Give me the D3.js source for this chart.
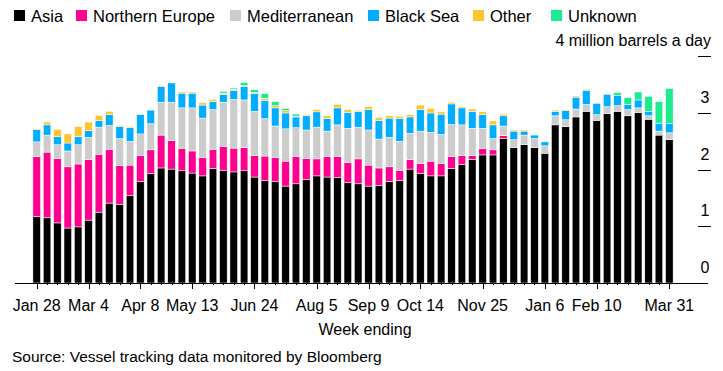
<!DOCTYPE html>
<html>
<head>
<meta charset="utf-8">
<script src="https://cdn.jsdelivr.net/npm/d3@7"></script>
<style>
  body { margin: 0; background: #fff; }
  text { font-family: "Liberation Sans", Arial, sans-serif; fill: #000; }
</style>
</head>
<body>
<div id="chart"></div>
<script>
// week ending (Fridays), Jan 2022 - Mar 2023
var weeks = ["Jan 28", "Feb 4", "Feb 11", "Feb 18", "Feb 25", "Mar 4", "Mar 11", "Mar 18", "Mar 25",
  "Apr 1", "Apr 8", "Apr 15", "Apr 22", "Apr 29", "May 6", "May 13", "May 20", "May 27",
  "Jun 3", "Jun 10", "Jun 17", "Jun 24", "Jul 1", "Jul 8", "Jul 15", "Jul 22", "Jul 29",
  "Aug 5", "Aug 12", "Aug 19", "Aug 26", "Sep 2", "Sep 9", "Sep 16", "Sep 23", "Sep 30",
  "Oct 7", "Oct 14", "Oct 21", "Oct 28", "Nov 4", "Nov 11", "Nov 18", "Nov 25",
  "Dec 2", "Dec 9", "Dec 16", "Dec 23", "Dec 30", "Jan 6", "Jan 13", "Jan 20", "Jan 27",
  "Feb 3", "Feb 10", "Feb 17", "Feb 24", "Mar 3", "Mar 10", "Mar 17", "Mar 24", "Mar 31"];

var tickWeeks = ["Jan 28", "Mar 4", "Apr 8", "May 13", "Jun 24", "Aug 5", "Sep 9", "Oct 14",
  "Nov 25", "Jan 6", "Feb 10", "Mar 31"];

var yTicks = [0, 1, 2, 3, 4];

var regions = ["Asia", "Northern Europe", "Mediterranean", "Black Sea", "Other", "Unknown"];
var colors = ["#000000", "#ff0090", "#cccccc", "#00adfe", "#ffc52e", "#1ceb8f"];

// million barrels a day
var asia = [1.17, 1.15, 1.06, 0.97, 0.99, 1.11, 1.25, 1.41, 1.39, 1.54, 1.79, 1.93, 2.03, 2.01, 1.98, 1.94,
  1.89, 2.02, 1.99, 1.96, 1.98, 1.87, 1.81, 1.79, 1.71, 1.75, 1.83, 1.89, 1.87, 1.86, 1.77, 1.75,
  1.71, 1.72, 1.79, 1.81, 2.01, 1.93, 1.89, 1.89, 2.02, 2.09, 2.18, 2.26, 2.26, 2.55, 2.39, 2.44,
  2.39, 2.29, 2.79, 2.76, 2.93, 3.03, 2.87, 2.99, 3.03, 2.95, 3.01, 2.89, 2.61, 2.53];
var northernEurope = [1.06, 1.16, 1.14, 1.08, 1.11, 1.07, 1.02, 0.95, 0.68, 0.54, 0.46, 0.42, 0.58, 0.50, 0.39, 0.39,
  0.32, 0.34, 0.42, 0.42, 0.41, 0.38, 0.43, 0.42, 0.44, 0.48, 0.37, 0.30, 0.36, 0.37, 0.36, 0.44,
  0.37, 0.31, 0.26, 0.18, 0.17, 0.18, 0.26, 0.22, 0.21, 0.16, 0.07, 0.11, 0.09, 0.05, 0, 0,
  0, 0, 0, 0, 0, 0, 0, 0, 0, 0, 0, 0, 0, 0];
var mediterranean = [0.26, 0.30, 0.24, 0.28, 0.34, 0.39, 0.48, 0.42, 0.48, 0.42, 0.38, 0.46, 0.58, 0.68, 0.72, 0.76,
  0.70, 0.70, 0.78, 0.86, 0.84, 0.78, 0.66, 0.56, 0.57, 0.51, 0.50, 0.56, 0.45, 0.56, 0.60, 0.56,
  0.62, 0.51, 0.52, 0.51, 0.46, 0.57, 0.51, 0.51, 0.57, 0.54, 0.48, 0.36, 0.20, 0.17, 0.14, 0.17,
  0.16, 0.13, 0.16, 0.12, 0.14, 0.12, 0.10, 0.12, 0.10, 0.11, 0.08, 0.06, 0.07, 0.12];
var blackSea = [0.22, 0.18, 0.14, 0.14, 0.14, 0.12, 0.12, 0.19, 0.21, 0.24, 0.34, 0.24, 0.28, 0.34, 0.26, 0.26,
  0.23, 0.14, 0.14, 0.16, 0.24, 0.31, 0.32, 0.32, 0.28, 0.19, 0.25, 0.27, 0.22, 0.30, 0.28, 0.28,
  0.36, 0.33, 0.34, 0.40, 0.29, 0.38, 0.34, 0.36, 0.36, 0.30, 0.30, 0.24, 0.24, 0.18, 0.15, 0.07,
  0.06, 0.07, 0.08, 0.16, 0.21, 0.25, 0.20, 0.22, 0.18, 0.09, 0.14, 0.08, 0.14, 0.16];
var other = [0.01, 0.05, 0.13, 0.16, 0.18, 0.15, 0.09, 0.06, 0.02, 0.02, 0, 0, 0.01, 0, 0.02, 0.02,
  0.04, 0.04, 0.02, 0.02, 0.01, 0.02, 0.04, 0.04, 0.04, 0.01, 0.02, 0.04, 0.05, 0.06, 0.05, 0.02,
  0.05, 0.05, 0.04, 0.04, 0.04, 0.08, 0.08, 0.04, 0.03, 0.02, 0.04, 0.05, 0.07, 0.03, 0.02, 0.02,
  0, 0, 0.02, 0.02, 0.02, 0.02, 0, 0, 0, 0, 0, 0, 0, 0];
var unknown = [0, 0, 0, 0, 0, 0, 0, 0, 0, 0, 0, 0, 0, 0, 0, 0,
  0, 0, 0.03, 0.02, 0.06, 0.05, 0.08, 0.07, 0.04, 0.04, 0, 0, 0, 0, 0, 0,
  0, 0, 0, 0, 0, 0, 0, 0, 0, 0, 0, 0, 0, 0, 0, 0,
  0, 0, 0, 0, 0, 0, 0, 0, 0.05, 0.12, 0.14, 0.26, 0.38, 0.62];

var svgWidth = 723;
var svgHeight = 371;

var svg = d3.select("#chart")
    .append("svg")
    .attr("width", svgWidth)
    .attr("height", svgHeight);

var table = weeks.map(function(w, i) {
    return {
        week: w,
        "Asia": asia[i],
        "Northern Europe": northernEurope[i],
        "Mediterranean": mediterranean[i],
        "Black Sea": blackSea[i],
        "Other": other[i],
        "Unknown": unknown[i]
    };
});

var stacked = d3.stack().keys(regions)(table);

var xScale = d3.scaleBand()
    .domain(weeks)
    .range([31.5, 674.5])
    .paddingInner(0.27)
    .paddingOuter(0.135);

var yScale = d3.scaleLinear()
    .domain([0, 4])
    .range([283, 56.3]);

var colorScale = d3.scaleOrdinal()
    .domain(regions)
    .range(colors);

// bars
svg.append("g")
    .selectAll("g")
    .data(stacked)
    .enter()
    .append("g")
    .attr("fill", d => colorScale(d.key))
    .selectAll("rect")
    .data(d => d)
    .enter()
    .filter(d => d[1] - d[0] > 0)
    .append("rect")
    .attr("x", d => xScale(d.data.week))
    .attr("width", xScale.bandwidth())
    .attr("y", d => yScale(d[1]))
    .attr("height", d => yScale(d[0]) - yScale(d[1]))
    .attr("stroke", "#fff")
    .attr("stroke-width", 0.5);

// x axis: baseline, weekly minor ticks, labelled major ticks
var xAxis = svg.append("g");

xAxis.append("line")
    .attr("x1", 15)
    .attr("x2", 708)
    .attr("y1", 283.5)
    .attr("y2", 283.5)
    .attr("stroke", "#000")
    .attr("stroke-width", 1);

xAxis.selectAll(".minor")
    .data(weeks)
    .enter()
    .append("line")
    .attr("class", "minor")
    .attr("x1", d => Math.round(xScale(d) + xScale.bandwidth() / 2) + 0.5)
    .attr("x2", d => Math.round(xScale(d) + xScale.bandwidth() / 2) + 0.5)
    .attr("y1", 283)
    .attr("y2", 285)
    .attr("stroke", "#000");

xAxis.selectAll(".major")
    .data(tickWeeks)
    .enter()
    .append("line")
    .attr("class", "major")
    .attr("x1", d => Math.round(xScale(d) + xScale.bandwidth() / 2) + 0.5)
    .attr("x2", d => Math.round(xScale(d) + xScale.bandwidth() / 2) + 0.5)
    .attr("y1", 283)
    .attr("y2", 289)
    .attr("stroke", "#000");

xAxis.selectAll(".tickLabel")
    .data(tickWeeks)
    .enter()
    .append("text")
    .attr("class", "tickLabel")
    .attr("x", d => xScale(d) + xScale.bandwidth() / 2)
    .attr("y", 311)
    .attr("text-anchor", "middle")
    .style("font-size", "16px")
    .text(d => d);

// y axis on the right
var yAxis = svg.append("g");

yAxis.selectAll("line")
    .data(yTicks.filter(d => d > 0))
    .enter()
    .append("line")
    .attr("x1", 698)
    .attr("x2", 711)
    .attr("y1", d => Math.round(yScale(d)) + 0.5)
    .attr("y2", d => Math.round(yScale(d)) + 0.5)
    .attr("stroke", "#000");

yAxis.selectAll("text")
    .data(yTicks)
    .enter()
    .append("text")
    .attr("x", d => d === 4 ? 711 : 705)
    .attr("y", d => yScale(d) - 10)
    .attr("text-anchor", d => d === 4 ? "end" : "middle")
    .style("font-size", "16px")
    .text(d => d === 4 ? "4 million barrels a day" : d);

// legend
var legendX = [14, 76, 230, 368, 473, 551];

var legend = svg.selectAll(".legend")
    .data(regions)
    .enter()
    .append("g")
    .attr("class", "legend")
    .attr("transform", (d, i) => `translate(${legendX[i]}, 10)`);

legend.append("rect")
    .attr("width", 11)
    .attr("height", 11)
    .attr("fill", d => colorScale(d));

legend.append("text")
    .attr("x", 17)
    .attr("y", 11.5)
    .style("font-size", "16.5px")
    .text(d => d);

// axis title and source
svg.append("text")
    .attr("x", 365)
    .attr("y", 335)
    .attr("text-anchor", "middle")
    .style("font-size", "16px")
    .text("Week ending");

svg.append("text")
    .attr("x", 12)
    .attr("y", 362)
    .style("font-size", "15.5px")
    .text("Source: Vessel tracking data monitored by Bloomberg");
</script>
</body>
</html>
